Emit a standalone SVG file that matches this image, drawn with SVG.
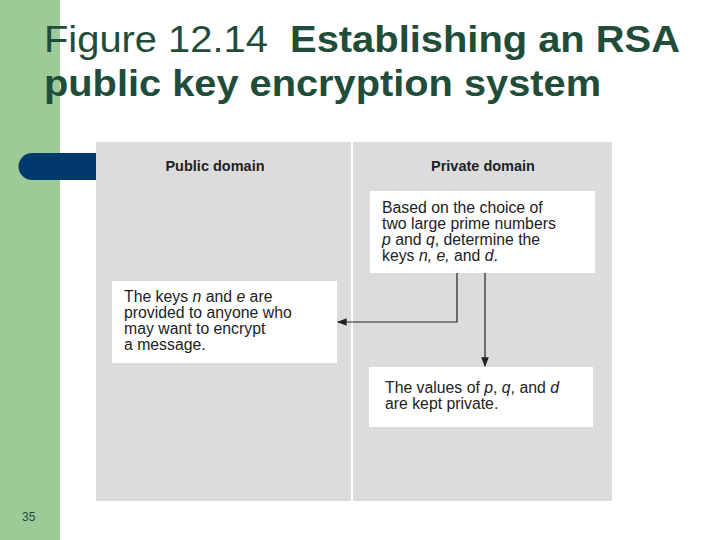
<svg xmlns="http://www.w3.org/2000/svg" width="720" height="540" viewBox="0 0 720 540">
<style>
.t{font-family:"Liberation Sans",Arial,sans-serif;font-size:15.8px;fill:#222}
.h{font-family:"Liberation Sans",Arial,sans-serif;font-size:14.5px;font-weight:bold;fill:#222}
.box{fill:#fff}
.c{fill:none;stroke:#222;stroke-width:1.2}
</style>
<defs><marker id="a" viewBox="0 0 10 10" refX="9" refY="5" markerWidth="8" markerHeight="8" orient="auto"><path d="M0,1L10,5L0,9z" fill="#222"/></marker></defs>
<rect width="720" height="540" fill="#fff"/>
<rect x="0" y="0" width="60" height="540" fill="#9ccb98"/>
<text x="44" y="52" font-family="Liberation Sans,Arial,sans-serif" font-size="37" fill="#1f4d3a" textLength="636" lengthAdjust="spacingAndGlyphs" xml:space="preserve">Figure 12.14  <tspan font-weight="bold">Establishing an RSA</tspan></text>
<text x="44" y="96" font-family="Liberation Sans,Arial,sans-serif" font-size="37" font-weight="bold" fill="#1f4d3a" textLength="557" lengthAdjust="spacingAndGlyphs">public key encryption system</text>
<path d="M32,153H97V180H32A13.5,13.5 0 0 1 32,153Z" fill="#003a6c"/>
<rect x="96" y="142" width="516" height="359" fill="#dcdcdc"/>
<line x1="352" y1="142" x2="352" y2="501" stroke="#fff" stroke-width="2"/>
<text class="h" x="215" y="171" text-anchor="middle">Public domain</text>
<text class="h" x="483" y="171" text-anchor="middle">Private domain</text>
<g id="n1"><rect class="box" x="370" y="191" width="225" height="82"/>
<text class="t" x="382" y="213">Based on the choice of</text>
<text class="t" x="382" y="229">two large prime numbers</text>
<text class="t" x="382" y="245"><tspan font-style="italic">p</tspan> and <tspan font-style="italic">q</tspan>, determine the</text>
<text class="t" x="382" y="261">keys <tspan font-style="italic">n, e,</tspan> and <tspan font-style="italic">d</tspan>.</text></g>
<g id="n2"><rect class="box" x="112" y="281" width="225" height="82"/>
<text class="t" x="124" y="302">The keys <tspan font-style="italic">n</tspan> and <tspan font-style="italic">e</tspan> are</text>
<text class="t" x="124" y="318">provided to anyone who</text>
<text class="t" x="124" y="334">may want to encrypt</text>
<text class="t" x="124" y="350">a message.</text></g>
<g id="n3"><rect class="box" x="369" y="367" width="224" height="60"/>
<text class="t" x="385" y="393">The values of <tspan font-style="italic">p</tspan>, <tspan font-style="italic">q</tspan>, and <tspan font-style="italic">d</tspan></text>
<text class="t" x="385" y="409">are kept private.</text></g>
<g id="connectors">
<path class="c" d="M457,273V322H338" marker-end="url(#a)"/>
<path class="c" d="M485,273V366" marker-end="url(#a)"/>
</g>
<text x="22" y="521" font-family="Liberation Sans,Arial,sans-serif" font-size="12" fill="#1f4d3a">35</text>
</svg>
